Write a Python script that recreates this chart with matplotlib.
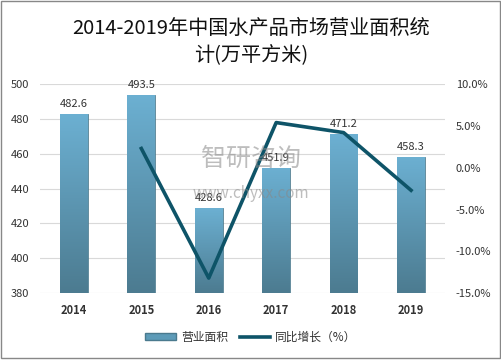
import matplotlib.pyplot as plt
import numpy as np
from matplotlib.patches import Rectangle
from matplotlib.lines import Line2D

plt.rcParams['font.family'] = ['Noto Sans CJK SC', 'DejaVu Sans']

years = ['2014', '2015', '2016', '2017', '2018', '2019']
area = [482.6, 493.5, 428.6, 451.9, 471.2, 458.3]
growth = [None, 2.3, -13.2, 5.4, 4.2, -2.7]

fig = plt.figure(figsize=(5.02, 3.61), dpi=100)
ax = fig.add_axes([0.08, 0.188, 0.806, 0.579])
x = np.arange(len(years))

# gradient bars
cmap = plt.matplotlib.colors.LinearSegmentedColormap.from_list('b', ['#4c7b90', '#6cb0d2'])
bars = ax.bar(x, area, width=0.41, color='none', edgecolor='#4a7a8e', linewidth=0.6, zorder=2)
grad = np.linspace(0, 1, 256).reshape(-1, 1)
for b in bars:
    im = ax.imshow(grad, cmap=cmap, aspect='auto', origin='lower',
                   extent=[b.get_x(), b.get_x() + b.get_width(), 380, b.get_height()], zorder=2)
    im.set_clip_path(b)
for xi, v in zip(x, area):
    ax.text(xi, v + 3, f'{v}', ha='center', va='bottom', fontsize=8, color='#333333', zorder=5)

ax.set_xlim(-0.5, 5.5)
ax.set_ylim(380, 500)
ax.set_yticks(range(380, 501, 20))
ax.set_xticks(x)
ax.set_xticklabels(years, fontsize=8, fontweight='bold', color='#333333')
ax.tick_params(axis='y', labelsize=8, colors='#333333', length=0, pad=8)
ax.tick_params(axis='x', length=0, pad=8)
ax.grid(axis='y', color='#d9d9d9', linewidth=0.8, zorder=0)
ax.set_axisbelow(True)
for s in ax.spines.values():
    s.set_visible(False)

ax2 = ax.twinx()
ax2.plot(x[1:], growth[1:], color='#0e5468', linewidth=2.6, zorder=4)
ax2.set_ylim(-15, 10)
ax2.set_yticks(range(-15, 11, 5))
ax2.set_yticklabels([f'{t:.1f}%' for t in range(-15, 11, 5)])
ax2.tick_params(axis='y', labelsize=8, colors='#333333', length=0, pad=8)
for s in ax2.spines.values():
    s.set_visible(False)

fig.text(0.5, 0.885, '2014-2019年中国水产品市场营业面积统\n计(万平方米)', ha='center', va='center',
         fontsize=14.5, fontweight='medium', color='#111111', linespacing=1.35)

# watermark
fig.text(0.5, 0.56, '智研咨询', ha='center', va='center', fontsize=18, color='#888888', alpha=0.55)
fig.text(0.5, 0.465, 'www.chyxx.com', ha='center', va='center', fontsize=11, color='#888888', alpha=0.55)

handles = [Rectangle((0, 0), 1, 1, facecolor='#5d9bb8', edgecolor='#4a7a8e'),
           Line2D([0], [0], color='#0e5468', linewidth=2.6)]
fig.legend(handles, ['营业面积', '同比增长（%）'], loc='center', bbox_to_anchor=(0.5, 0.065),
           ncol=2, frameon=False, fontsize=8.5, handlelength=2.6, handleheight=0.5,
           handletextpad=0.4, columnspacing=1.0, labelcolor='#333333')

fig.patches.append(Rectangle((0.002, 0.008), 0.994, 0.988, transform=fig.transFigure,
                             fill=False, edgecolor='#888888', linewidth=1))

fig.savefig('out.png', dpi=100)
